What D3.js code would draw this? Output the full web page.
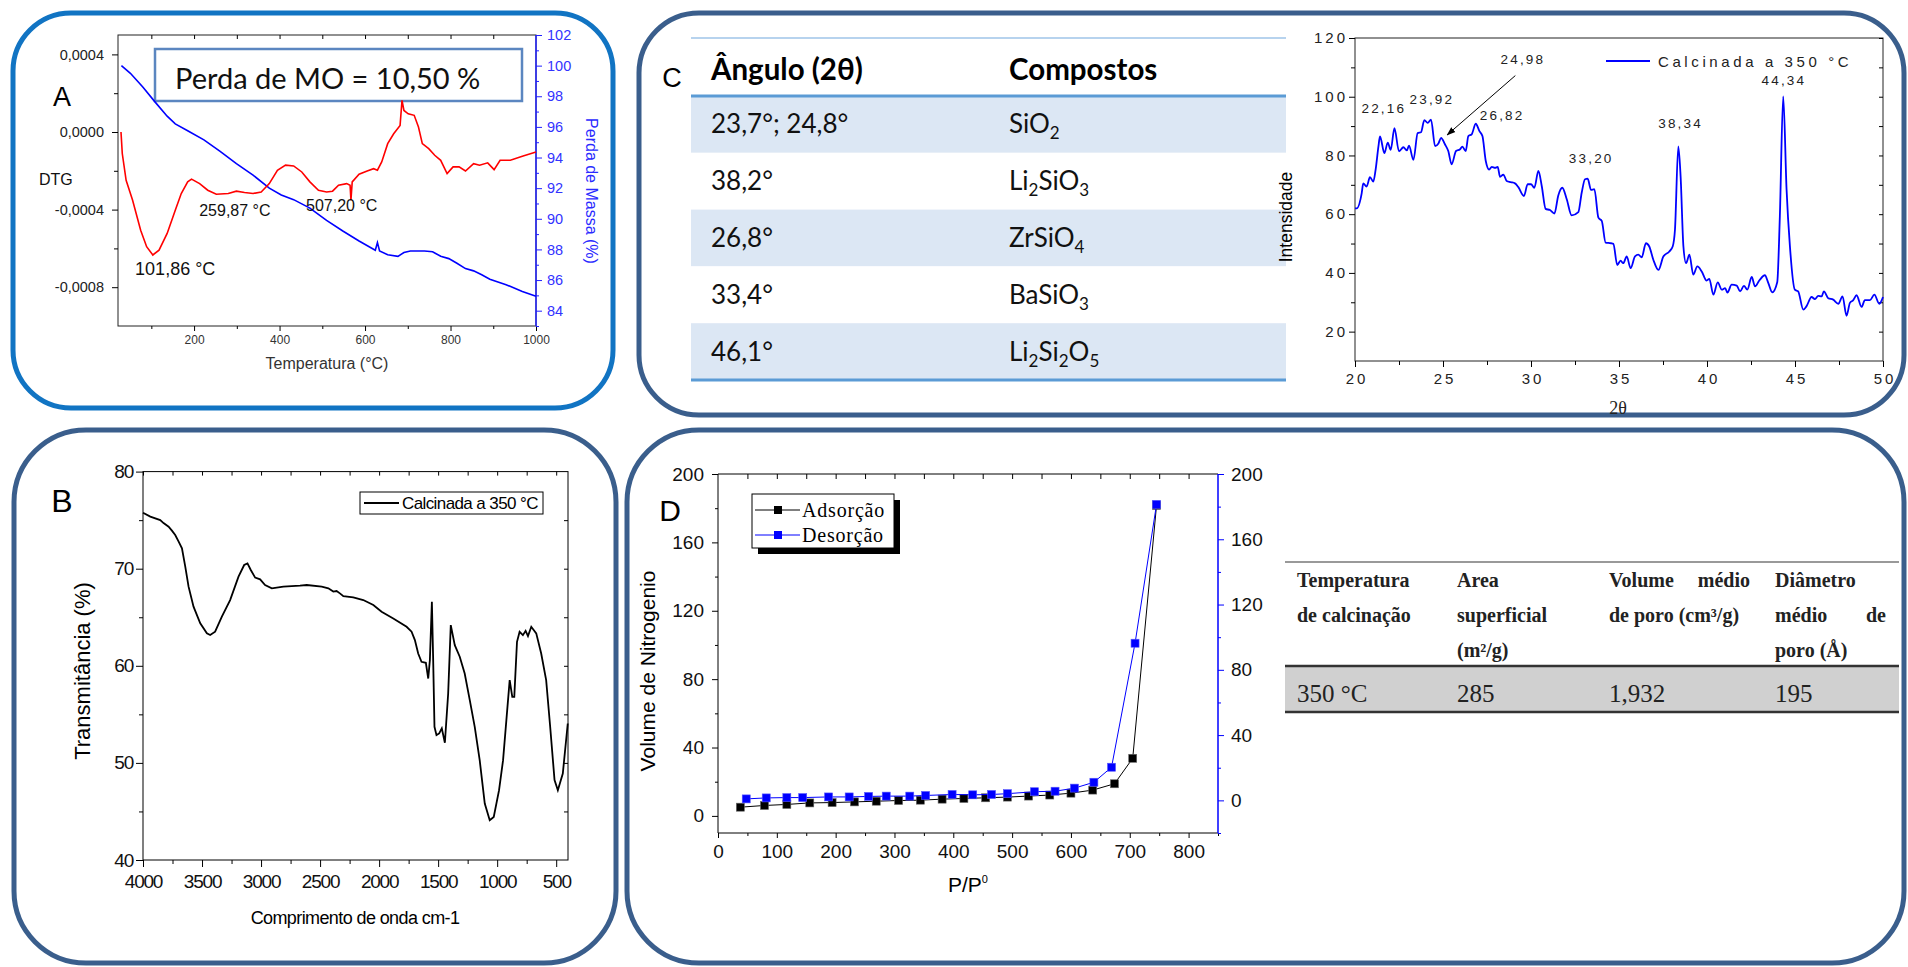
<!DOCTYPE html>
<meta charset="utf-8">
<style>
    body { margin: 0; background: #fff; }
</style>
<body>
<script src="https://d3js.org/d3.v7.min.js"></script>
<script>

// ---------- data ----------

// A: DTG (temperature °C, dm/dT) and TGA mass loss (temperature °C, %)
var dtgCurve = [[29,0],[32,-0.000111],[41,-0.000249],[56,-0.000351],[75,-0.000506],[89,-0.000591],[103.5,-0.000634],[118,-0.000609],[137,-0.000523],[156,-0.000403],[170,-0.000317],[185,-0.000257],[194,-0.000243],[213,-0.000266],[232,-0.0003],[252,-0.000321],[280,-0.000317],[299,-0.000305],[318,-0.000312],[338,-0.000317],[357,-0.000309],[376,-0.000266],[395,-0.000197],[414,-0.000171],[433,-0.000175],[452,-0.000206],[471,-0.000257],[491,-0.0003],[510,-0.000309],[524,-0.000305],[538,-0.000274],[557,-0.000266],[565,-0.000274],[567,-0.000351],[570,-0.000257],[586,-0.000218],[605,-0.000201],[620,-0.000189],[629,-0.000197],[639,-0.000154],[653,-0.00006],[667,-0.000009],[682,0.000034],[686.5,0.000163],[691,0.000111],[701,0.000094],[715,0.000086],[725,0.000026],[734,-0.00006],[749,-0.000086],[763,-0.00012],[777,-0.000146],[792,-0.000214],[806,-0.00018],[820,-0.00018],[835,-0.000201],[854,-0.000163],[868,-0.000171],[887,-0.000159],[902,-0.000194],[916,-0.000146],[940,-0.000146],[968,-0.000125],[1000,-0.000103]];
var tgaCurve = [[30,100],[51,99.5],[80,98.6],[108,97.65],[137,96.7],[156,96.2],[185,95.75],[223,95.15],[261,94.4],[299,93.6],[338,92.85],[376,92],[404,91.55],[433,91.25],[471,90.7],[510,89.9],[548,89.2],[586,88.55],[624,87.95],[629,88.45],[634,87.9],[653,87.65],[677,87.55],[691,87.8],[706,87.9],[739,87.9],[758,87.85],[777,87.55],[796,87.4],[815,87.1],[835,86.75],[854,86.6],[873,86.35],[892,86.05],[930,85.7],[968,85.25],[1000,84.95]];
var dtgNotes = [["101,86 °C", 62, -0.000737, 18], ["259,87 °C", 212, -0.000433, 16], ["507,20 °C", 462, -0.000407, 16]];

// B: FTIR (wavenumber cm-1, transmittance %)
var ftirCurve = [[4000,75.77],[3938,75.36],[3854,75],[3826,74.7],[3783,74.33],[3755,73.92],[3727,73.47],[3698,72.78],[3670,72.1],[3642,70.21],[3614,68.15],[3572,66.09],[3515,64.37],[3459,63.34],[3431,63.17],[3389,63.51],[3332,65.06],[3262,66.77],[3191,69.18],[3143,70.38],[3115,70.55],[3087,69.87],[3050,69.08],[3008,68.9],[2966,68.32],[2909,67.98],[2811,68.15],[2670,68.25],[2613,68.32],[2486,68.15],[2430,67.98],[2388,67.64],[2360,67.7],[2332,67.46],[2303,67.18],[2219,67.05],[2134,66.77],[2049,66.26],[1979,65.57],[1880,64.88],[1767,64.02],[1725,63.51],[1697,62.65],[1669,61.27],[1641,60.41],[1604,60.31],[1584,58.69],[1570,60.58],[1553,66.59],[1542,60.58],[1531,53.72],[1514,52.86],[1491,53.03],[1469,53.55],[1443,52.07],[1415,57.15],[1393,64.19],[1359,62.13],[1317,60.93],[1275,59.21],[1232,56.46],[1190,53.72],[1148,50.28],[1105,45.82],[1063,44.1],[1029,44.44],[984,47.19],[950,50.28],[922,54.4],[894,58.52],[872,56.8],[855,56.8],[832,62.47],[810,63.5],[782,63.16],[759,63.6],[739,63.06],[711,64.02],[669,63.34],[627,61.27],[585,58.52],[551,53.72],[514,48.23],[486,47.19],[444,48.91],[402,54.06]];

// C: XRD (2θ, intensity) and phase table
var xrdCurve = [[20,62],[20.1,62],[20.38,67.1],[20.47,70.5],[20.66,69.4],[20.85,72.6],[21.04,71.1],[21.17,75.1],[21.33,83],[21.42,86.5],[21.67,80.8],[21.86,84.4],[22.03,81.9],[22.24,89.3],[22.5,81.4],[22.75,82.8],[22.94,81.7],[23.07,83.3],[23.32,78.5],[23.56,87.6],[23.75,87.9],[23.94,92],[24.13,91.1],[24.32,92.2],[24.55,83.2],[24.74,84.1],[24.89,86],[25.11,83.8],[25.3,81.5],[25.49,77],[25.74,81.5],[25.97,82.1],[26.1,83],[26.29,81.5],[26.44,86.6],[26.63,87.2],[26.86,90.8],[27.07,88.3],[27.24,86.6],[27.43,78.1],[27.62,75.2],[27.77,76.1],[27.96,75.8],[28.11,76.1],[28.24,72.7],[28.43,73.5],[28.62,71.3],[28.85,70.9],[29.09,70.5],[29.28,69.2],[29.6,66.2],[29.81,70.2],[30,70.2],[30.19,69],[30.42,74.7],[30.61,69.6],[30.83,61.8],[31.08,61.4],[31.33,60.2],[31.55,66.4],[31.78,69],[32.03,65.1],[32.31,59.6],[32.69,60.7],[32.88,67.3],[33.07,71.9],[33.22,72.1],[33.41,68.3],[33.6,68.5],[33.83,58.8],[34.02,57.7],[34.24,50.3],[34.55,50.1],[34.68,49.9],[34.9,42.7],[35.09,44.2],[35.24,43.3],[35.44,45.6],[35.66,41.6],[35.91,45.6],[36.1,46.2],[36.29,45.3],[36.53,50.1],[36.72,49],[36.95,44.5],[37.24,41],[37.52,45.6],[37.86,47.3],[38.05,49],[38.18,54.7],[38.37,83.1],[38.5,72.9],[38.66,49],[38.81,43.3],[39,46.2],[39.22,39.4],[39.45,42.2],[39.7,40.5],[39.98,37.4],[40.13,38],[40.36,32.6],[40.61,36.8],[40.84,34.3],[41.03,34.8],[41.16,33.3],[41.4,36],[41.69,35.7],[41.88,33.7],[42.1,35.6],[42.29,34.3],[42.54,38.6],[42.73,35.4],[42.97,37.4],[43.29,39.2],[43.48,36.6],[43.71,33.4],[43.99,36.8],[44.14,59.4],[44.33,100.1],[44.52,68.5],[44.71,49.2],[44.99,34.3],[45.18,33.7],[45.47,27.5],[45.65,28.6],[45.94,31.8],[46.13,31.1],[46.32,32.2],[46.51,32],[46.64,33.7],[46.89,31.4],[47.17,30.9],[47.46,29.5],[47.7,32],[47.93,25.4],[48.12,29.8],[48.31,30.7],[48.5,32.4],[48.78,28.4],[48.97,30.7],[49.26,30.7],[49.51,32.6],[49.79,29.5],[50,31.8]];
var xrdPeaks = [["22,16",21.64,94.4],["23,92",24.37,97.5],["24,98",29.54,111.3],["26,82",28.36,92.2],["33,20",33.42,77.4],["38,34",38.5,89.3],["44,34",44.37,104.1]];
var xrdArrow = [[29.11,107.2],[25.24,87.0]];
var faseAngulos = ["23,7°; 24,8°", "38,2°", "26,8°", "33,4°", "46,1°"];
var faseCompostos = ["SiO_2", "Li_2SiO_3", "ZrSiO_4", "BaSiO_3", "Li_2Si_2O_5"];

// D: N2 isotherm (P/P0, volume)
var adsorcao = [[38,5.1],[79,6.1],[117,6.7],[156,7.6],[194,7.8],[232,8.2],[269,8.6],[307,9],[344,9.2],[381,9.8],[418,10.2],[455,10.6],[492,11],[528,11.6],[564,12.2],[600,13.3],[637,15.1],[674,18.8],[705,33.7],[745.5,181.6]];
var desorcao = [[48,0.9],[82,1.5],[117,1.7],[144,1.7],[188,2.1],[223,2.1],[256,2.4],[286,2.6],[326,2.6],[353,3],[398,3.6],[433,3.4],[465,3.6],[492,4.1],[538,5.3],[573,5.6],[606,7.5],[639,11.1],[669,20.3],[709,96.3],[745.5,181.4]];
var betHeaders = [["Temperatura", "de calcinação"], ["Area", "superficial", "(m²/g)"], ["Volume|médio", "de poro (cm³/g)"], ["Diâmetro", "médio|de", "poro (Å)"]];
var betValores = ["350 °C", "285", "1,932", "195"];

// ---------- setup ----------
var SANS = '"Liberation Sans", Arial, sans-serif';
var SERIF = '"Liberation Serif", "Times New Roman", serif';
var CAL = 'Lato, "Open Sans", sans-serif';

var svg = d3.select("body").append("svg")
    .attr("width", 1908).attr("height", 967)
    .style("display", "block");
svg.append("rect").attr("width", 1908).attr("height", 967).attr("fill", "#fff");

var ptBR = d3.formatLocale({ decimal: ",", thousands: ".", grouping: [3], currency: ["", ""], minus: "-" });
var f4 = ptBR.format(".4f");
var fInt = d3.format("d");

// draws an axis without its domain line
function axis(gen, tx, ty, o) {
    o = o || {};
    var g = svg.append("g").attr("transform", "translate(" + tx + "," + ty + ")").call(gen);
    g.select(".domain").remove();
    g.attr("font-family", o.font || SANS).attr("font-size", o.size || 12);
    g.selectAll(".tick line").attr("stroke", o.color || "#000");
    g.selectAll(".tick text").attr("fill", o.text || "#111");
    if (o.ls) g.selectAll(".tick text").attr("letter-spacing", o.ls).attr("dx", o.dx || 0);
    return g;
}

function txt(x, y, s, size, o) {
    o = o || {};
    return svg.append("text").attr("x", x).attr("y", y).text(s)
        .attr("font-family", o.font || SANS).attr("font-size", size)
        .attr("font-weight", o.weight || null)
        .attr("fill", o.fill || "#000")
        .attr("text-anchor", o.anchor || "start")
        .attr("letter-spacing", o.ls || null);
}

function vtxt(cx, cy, s, size, o) {
    o = o || {};
    return svg.append("text")
        .attr("transform", "translate(" + cx + "," + cy + ") rotate(" + (o.rot || -90) + ")")
        .attr("text-anchor", "middle").text(s)
        .attr("font-family", o.font || SANS).attr("font-size", size)
        .attr("fill", o.fill || "#000");
}

function frame(x0, y0, x1, y1, col) {
    svg.append("rect").attr("x", x0).attr("y", y0).attr("width", x1 - x0).attr("height", y1 - y0)
        .attr("fill", "none").attr("stroke", col || "#000").attr("stroke-width", 1);
}

// rounded panel borders
var panels = [[13, 13, 600, 395, 58, "#1174c3"], [639, 13, 1265, 402, 60, "#3a5e8c"],
              [14, 430, 602, 533, 72, "#3a5e8c"], [627, 430, 1277, 533, 72, "#3a5e8c"]];
panels.forEach(function (p) {
    svg.append("rect").attr("x", p[0]).attr("y", p[1]).attr("width", p[2]).attr("height", p[3])
        .attr("rx", p[4]).attr("fill", "none").attr("stroke", p[5]).attr("stroke-width", 5);
});

// ---------- A: DTG / TGA ----------
var aX = d3.scaleLinear().domain([22, 1000]).range([118, 536]);
var aY = d3.scaleLinear().domain([-0.001, 0.0005]).range([326, 35]);
var aY2 = d3.scaleLinear().domain([83, 102]).range([326, 35]);

frame(118, 35, 536, 326, "#222");
axis(d3.axisBottom(aX).tickValues([200, 400, 600, 800, 1000]).tickSize(5).tickPadding(4).tickFormat(fInt), 0, 326, { size: 12, text: "#333" });
axis(d3.axisBottom(aX).tickValues([100, 300, 500, 700, 900]).tickSize(3).tickFormat(""), 0, 326);
axis(d3.axisTop(aX).tickValues([100, 200, 300, 400, 500, 600, 700, 800, 900]).tickSize(-4).tickFormat(""), 0, 35);
axis(d3.axisLeft(aY).tickValues([0.0004, 0, -0.0004, -0.0008]).tickSize(6).tickPadding(8).tickFormat(f4), 118, 0, { size: 14.5, text: "#222" });
axis(d3.axisLeft(aY).tickValues([0.0002, -0.0002, -0.0006]).tickSize(4).tickFormat(""), 118, 0);
svg.append("line").attr("x1", 536).attr("x2", 536).attr("y1", 35).attr("y2", 326).attr("stroke", "#2222ff").attr("stroke-width", 1.5);
axis(d3.axisRight(aY2).tickValues(d3.range(84, 103, 2)).tickSize(6).tickPadding(5), 536, 0, { size: 14.5, color: "#2222ff", text: "#3333ff" });
axis(d3.axisRight(aY2).tickValues(d3.range(83, 102, 2)).tickSize(3).tickFormat(""), 536, 0, { color: "#2222ff" });

svg.append("rect").attr("x", 155).attr("y", 49).attr("width", 367).attr("height", 52)
    .attr("fill", "#fff").attr("stroke", "#5b86c0").attr("stroke-width", 2.5);
txt(175, 89, "Perda de MO = 10,50 %", 29, { font: CAL, fill: "#111" });

svg.append("path").datum(tgaCurve)
    .attr("d", d3.line().x(function (d) { return aX(d[0]); }).y(function (d) { return aY2(d[1]); }))
    .attr("fill", "none").attr("stroke", "#0000ff").attr("stroke-width", 1.6);
svg.append("path").datum(dtgCurve)
    .attr("d", d3.line().x(function (d) { return aX(d[0]); }).y(function (d) { return aY(d[1]); }))
    .attr("fill", "none").attr("stroke", "#ff0000").attr("stroke-width", 1.6);

dtgNotes.forEach(function (n) { txt(aX(n[1]), aY(n[2]), n[0], n[3], { fill: "#111" }); });

txt(62, 106, "A", 27, { anchor: "middle" });
txt(39, 185, "DTG", 16, { fill: "#111" });
vtxt(586, 191, "Perda de Massa (%)", 16, { rot: 90, fill: "#2a2aff" });
txt(327, 369, "Temperatura (°C)", 16, { anchor: "middle", fill: "#333" });

// ---------- C: phase table ----------
var rowY = d3.scaleBand().domain(d3.range(faseAngulos.length)).range([96, 380]);
svg.selectAll("rect.fase").data(faseAngulos).enter().append("rect")
    .attr("x", 691).attr("width", 595)
    .attr("y", function (d, i) { return rowY(i); }).attr("height", rowY.bandwidth())
    .attr("fill", function (d, i) { return i % 2 === 0 ? "#dce7f4" : "#fff"; });
svg.append("line").attr("x1", 691).attr("x2", 1286).attr("y1", 38).attr("y2", 38).attr("stroke", "#9fc5e8").attr("stroke-width", 1.5);
[96, 380].forEach(function (y) {
    svg.append("line").attr("x1", 691).attr("x2", 1286).attr("y1", y).attr("y2", y).attr("stroke", "#5b9bd5").attr("stroke-width", 3);
});
txt(711, 80, "Ângulo (2θ)", 29.5, { font: CAL, weight: "bold" });
txt(1009, 80, "Compostos", 29.5, { font: CAL, weight: "bold" });
faseAngulos.forEach(function (a, i) {
    var by = rowY(i) + rowY.bandwidth() / 2 + 9;
    txt(711, by, a, 26, { font: CAL, fill: "#111" });
    var t = svg.append("text").attr("x", 1009).attr("y", by)
        .attr("font-family", CAL).attr("font-size", 26).attr("fill", "#111");
    faseCompostos[i].split(/_(\d)/).forEach(function (part, k) {
        if (!part) return;
        if (k % 2 === 1) t.append("tspan").attr("font-size", 17).attr("dy", 6).text(part);
        else t.append("tspan").attr("dy", k > 0 ? -6 : 0).text(part);
    });
});
txt(672, 87, "C", 27, { anchor: "middle" });

// ---------- C: XRD ----------
var cX = d3.scaleLinear().domain([20, 50]).range([1355, 1883]);
var cY = d3.scaleLinear().domain([10, 120]).range([361, 38]);

frame(1355, 38, 1883, 361, "#222");
axis(d3.axisBottom(cX).tickValues(d3.range(20, 51, 5)).tickSize(6).tickPadding(6), 0, 361, { size: 15, ls: 3, dx: 1.5, text: "#222" });
axis(d3.axisBottom(cX).tickValues(d3.range(22.5, 50, 5)).tickSize(4).tickFormat(""), 0, 361);
axis(d3.axisLeft(cY).tickValues(d3.range(20, 121, 20)).tickSize(6).tickPadding(4), 1355, 0, { size: 15, ls: 3, dx: 3, text: "#222" });
axis(d3.axisLeft(cY).tickValues(d3.range(30, 120, 20)).tickSize(4).tickFormat(""), 1355, 0);
axis(d3.axisRight(cY).tickValues(d3.range(20, 121, 10)).tickSize(-4).tickFormat(""), 1883, 0);

svg.append("path").datum(xrdCurve)
    .attr("d", d3.line().curve(d3.curveMonotoneX).x(function (d) { return cX(d[0]); }).y(function (d) { return cY(d[1]); }))
    .attr("fill", "none").attr("stroke", "#0000ff").attr("stroke-width", 1.8);

xrdPeaks.forEach(function (p) {
    txt(cX(p[1]), cY(p[2]), p[0], 13.5, { anchor: "middle", ls: 2.2, fill: "#222" });
});
svg.append("defs").append("marker").attr("id", "arr")
    .attr("viewBox", "0 0 10 10").attr("refX", 9).attr("refY", 5)
    .attr("markerWidth", 9).attr("markerHeight", 9).attr("orient", "auto")
    .append("path").attr("d", "M0,1.5L10,5L0,8.5Z").attr("fill", "#000");
svg.append("line")
    .attr("x1", cX(xrdArrow[0][0])).attr("y1", cY(xrdArrow[0][1]))
    .attr("x2", cX(xrdArrow[1][0])).attr("y2", cY(xrdArrow[1][1]))
    .attr("stroke", "#000").attr("stroke-width", 1).attr("marker-end", "url(#arr)");

svg.append("line").attr("x1", 1606).attr("x2", 1650).attr("y1", 61).attr("y2", 61).attr("stroke", "#0000ff").attr("stroke-width", 1.8);
txt(1658, 67, "Calcinada a 350 °C", 15, { ls: 3.6, fill: "#222" });
vtxt(1292, 217, "Intensidade", 17.5);
txt(1618, 414, "2θ", 18, { font: SERIF, anchor: "middle", fill: "#222" });

// ---------- B: FTIR ----------
var bX = d3.scaleLinear().domain([4000, 400]).range([143, 568]);
var bY = d3.scaleLinear().domain([40, 80]).range([860, 471.6]);

frame(143, 471.6, 568, 860, "#000");
axis(d3.axisBottom(bX).tickValues(d3.range(4000, 499, -500)).tickSize(7).tickPadding(8).tickFormat(fInt), 0, 860, { size: 19, ls: -1.2 });
axis(d3.axisBottom(bX).tickValues(d3.range(3750, 499, -500)).tickSize(4).tickFormat(""), 0, 860);
axis(d3.axisTop(bX).tickValues(d3.range(4000, 499, -250)).tickSize(-4).tickFormat(""), 0, 471.6);
axis(d3.axisLeft(bY).tickValues([40, 50, 60, 70, 80]).tickSize(7).tickPadding(3), 143, 0, { size: 19, ls: -1.2 });
axis(d3.axisLeft(bY).tickValues([45, 55, 65, 75]).tickSize(4).tickFormat(""), 143, 0);
axis(d3.axisRight(bY).tickValues([45, 50, 55, 60, 65, 70, 75]).tickSize(-4).tickFormat(""), 568, 0);

svg.append("path").datum(ftirCurve)
    .attr("d", d3.line().x(function (d) { return bX(d[0]); }).y(function (d) { return bY(d[1]); }))
    .attr("fill", "none").attr("stroke", "#000").attr("stroke-width", 1.8);

svg.append("rect").attr("x", 360).attr("y", 492).attr("width", 183).attr("height", 22)
    .attr("fill", "#fff").attr("stroke", "#000").attr("stroke-width", 1);
svg.append("line").attr("x1", 364).attr("x2", 399).attr("y1", 503).attr("y2", 503).attr("stroke", "#000").attr("stroke-width", 1.8);
txt(402, 509, "Calcinada a 350 °C", 17, { ls: -0.6 });
txt(62, 512, "B", 32, { anchor: "middle" });
vtxt(90, 671, "Transmitância (%)", 22);
txt(355, 924, "Comprimento de onda cm-1", 18, { anchor: "middle", ls: -0.6 });

// ---------- D: isotherm ----------
var dX = d3.scaleLinear().domain([0, 850]).range([718, 1218]);
var dY = d3.scaleLinear().domain([-10, 200]).range([833, 474]);
var dY2 = d3.scaleLinear().domain([-20, 200]).range([833, 474]);

svg.append("line").attr("x1", 718).attr("x2", 1218).attr("y1", 474).attr("y2", 474).attr("stroke", "#000");
svg.append("line").attr("x1", 718).attr("x2", 1218).attr("y1", 833).attr("y2", 833).attr("stroke", "#000");
svg.append("line").attr("x1", 718).attr("x2", 718).attr("y1", 474).attr("y2", 833).attr("stroke", "#000");
svg.append("line").attr("x1", 1218).attr("x2", 1218).attr("y1", 474).attr("y2", 833).attr("stroke", "#0000ff").attr("stroke-width", 1.5);
axis(d3.axisBottom(dX).tickValues(d3.range(0, 801, 100)).tickSize(5).tickPadding(7), 0, 833, { size: 19 });
axis(d3.axisBottom(dX).tickValues(d3.range(50, 851, 100)).tickSize(3).tickFormat(""), 0, 833);
axis(d3.axisTop(dX).tickValues(d3.range(50, 801, 50)).tickSize(-5).tickFormat(""), 0, 474);
axis(d3.axisLeft(dY).tickValues(d3.range(0, 201, 40)).tickSize(6).tickPadding(8), 718, 0, { size: 19 });
axis(d3.axisLeft(dY).tickValues(d3.range(20, 181, 40)).tickSize(3).tickFormat(""), 718, 0);
axis(d3.axisRight(dY2).tickValues(d3.range(0, 201, 40)).tickSize(6).tickPadding(7), 1218, 0, { size: 19, color: "#0000ff" });
axis(d3.axisRight(dY2).tickValues(d3.range(-20, 181, 40)).tickSize(3).tickFormat(""), 1218, 0, { color: "#0000ff" });

svg.append("path").datum(adsorcao)
    .attr("d", d3.line().x(function (d) { return dX(d[0]); }).y(function (d) { return dY(d[1]); }))
    .attr("fill", "none").attr("stroke", "#000").attr("stroke-width", 1);
svg.selectAll("rect.ads").data(adsorcao).enter().append("rect")
    .attr("x", function (d) { return dX(d[0]) - 4; }).attr("y", function (d) { return dY(d[1]) - 4; })
    .attr("width", 8).attr("height", 8).attr("fill", "#000").attr("stroke", "#666").attr("stroke-width", 0.6);
svg.append("path").datum(desorcao)
    .attr("d", d3.line().x(function (d) { return dX(d[0]); }).y(function (d) { return dY2(d[1]); }))
    .attr("fill", "none").attr("stroke", "#0000ff").attr("stroke-width", 1);
svg.selectAll("rect.des").data(desorcao).enter().append("rect")
    .attr("x", function (d) { return dX(d[0]) - 4; }).attr("y", function (d) { return dY2(d[1]) - 4; })
    .attr("width", 8).attr("height", 8).attr("fill", "#0000ff").attr("stroke", "#55f").attr("stroke-width", 0.6);

// legend
svg.append("rect").attr("x", 758).attr("y", 500).attr("width", 142).attr("height", 54).attr("fill", "#000");
svg.append("rect").attr("x", 752).attr("y", 494).attr("width", 142).attr("height", 54).attr("fill", "#fff").attr("stroke", "#000");
[["Adsorção", "#000", 510], ["Desorção", "#0000ff", 535]].forEach(function (l) {
    svg.append("line").attr("x1", 755).attr("x2", 800).attr("y1", l[2]).attr("y2", l[2]).attr("stroke", l[1]);
    svg.append("rect").attr("x", 774).attr("y", l[2] - 4).attr("width", 8).attr("height", 8).attr("fill", l[1]);
    txt(802, l[2] + 7, l[0], 20, { font: SERIF, ls: 0.8 });
});
txt(670, 521, "D", 30, { anchor: "middle" });
vtxt(655, 671, "Volume de Nitrogenio", 21);
var pp = txt(968, 892, "P/P", 21, { anchor: "middle" });
pp.append("tspan").attr("font-size", 11).attr("dy", -9).text("0");

// ---------- D: BET table ----------
var betX = [1297, 1457, 1609, 1775];
var betXEnd = [1440, 1600, 1750, 1886];
var betLineY = d3.scaleBand().domain([0, 1, 2]).range([563, 668]);
svg.append("line").attr("x1", 1285).attr("x2", 1899).attr("y1", 562).attr("y2", 562).attr("stroke", "#999").attr("stroke-width", 2);
svg.append("rect").attr("x", 1285).attr("y", 666).attr("width", 614).attr("height", 46).attr("fill", "#d0d0d0");
[666, 712].forEach(function (y) {
    svg.append("line").attr("x1", 1285).attr("x2", 1899).attr("y1", y).attr("y2", y).attr("stroke", "#333").attr("stroke-width", 2.5);
});
betHeaders.forEach(function (lines, c) {
    lines.forEach(function (s, r) {
        var by = betLineY(r) + betLineY.bandwidth() / 2 + 6;
        var parts = s.split("|");
        txt(betX[c], by, parts[0], 20, { font: SERIF, weight: "bold", fill: "#222" });
        if (parts[1]) txt(betXEnd[c], by, parts[1], 20, { font: SERIF, weight: "bold", fill: "#222", anchor: "end" });
    });
});
betValores.forEach(function (v, c) {
    txt(betX[c], 702, v, 25, { font: SERIF, fill: "#222" });
});

</script>
</body>
